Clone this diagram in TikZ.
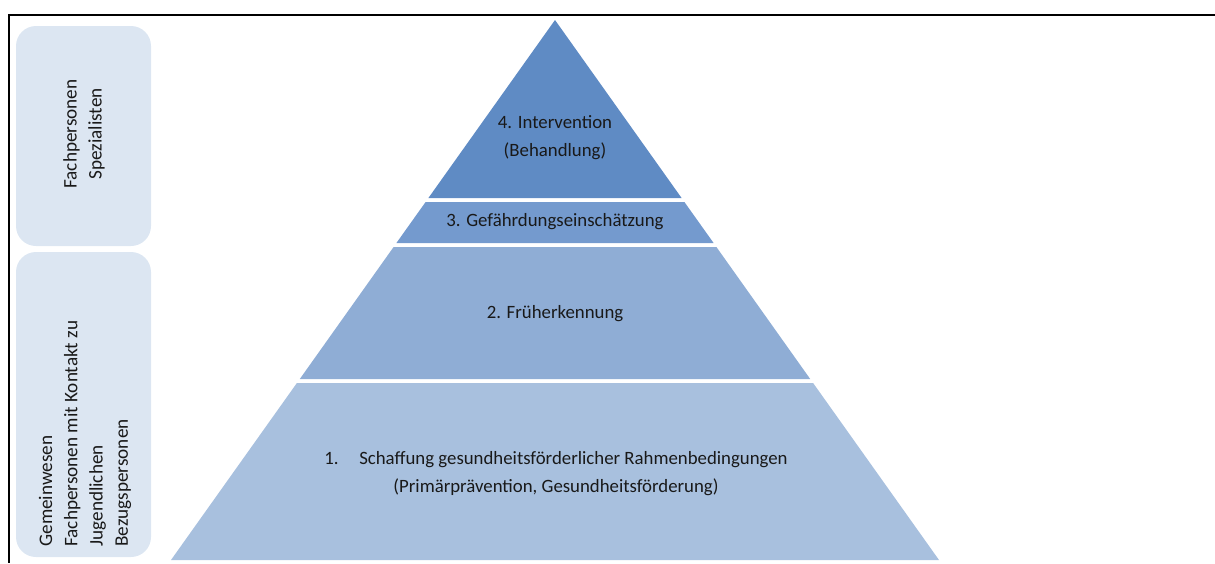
\documentclass[tikz,border=0pt]{standalone}
\usepackage{fontspec}
\setmainfont{Carlito}
\definecolor{boxfill}{HTML}{DCE6F2}
\definecolor{lvfour}{HTML}{5F8BC4}
\definecolor{lvthree}{HTML}{749ACE}
\definecolor{lvtwo}{HTML}{8FADD5}
\definecolor{lvone}{HTML}{A8C0DE}
\tikzset{
  sidebox/.style={fill=boxfill, draw=none, rounded corners=10pt},
  level/.style={draw=none},
  lbl/.style={font=\fontsize{9.4}{14}\selectfont, text=black!90, inner sep=0pt, align=center},
  sidelbl/.style={font=\fontsize{9.6}{12.6}\selectfont, text=black!90, inner sep=0pt, rotate=90},
  frameline/.style={line width=1.1pt, black}
}
\begin{document}
\begin{tikzpicture}[x=0.5pt,y=-0.5pt]
\useasboundingbox (0,0) rectangle (1215,563);
% frame
\draw[frameline] (1215,15) -- (9,15) -- (9,563);
% side boxes
\path[sidebox] (16,26) rectangle (151,246);
\path[sidebox] (16,252) rectangle (151,557);
\node[sidelbl, align=center] (spec) at (84,134) {Fachpersonen\\Spezialisten};
\node[sidelbl, align=left, anchor=west] (comm) at (85,547) {Gemeinwesen\\Fachpersonen mit Kontakt zu\\Jugendlichen\\Bezugspersonen};
% pyramid levels
\fill[level, lvfour] (555,20) -- (681.6,198) -- (428.4,198) -- cycle;
\fill[level, lvthree] (425.6,202) -- (684.4,202) -- (713.6,243) -- (396.4,243) -- cycle;
\fill[level, lvtwo] (393.6,247) -- (716.4,247) -- (810.2,379) -- (299.8,379) -- cycle;
\fill[level, lvone] (296.9,383) -- (813.1,383) -- (939,560) -- (171,560) -- cycle;
% labels
\node[lbl] (l4) at (555,138) {4. Intervention\\(Behandlung)};
\node[lbl] (l3) at (555,222) {3. Gefährdungseinschätzung};
\node[lbl] (l2) at (555,314) {2. Früherkennung};
\node[lbl] (l1) at (556,474) {1.\hspace{1.1em}Schaffung gesundheitsförderlicher Rahmenbedingungen\\(Primärprävention, Gesundheitsförderung)};
\end{tikzpicture}
\end{document}
